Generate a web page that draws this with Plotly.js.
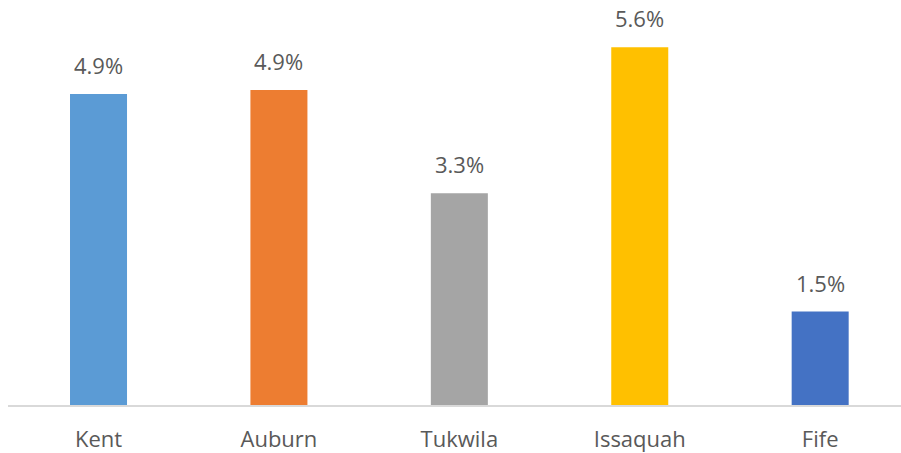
<!DOCTYPE html>
<html>
<head>
<meta charset="utf-8">
<script src="https://cdn.plot.ly/plotly-3.0.1.min.js"></script>
<style>
html,body{margin:0;padding:0;background:#fff;}
#chart{width:901px;height:453px;}
</style>
</head>
<body>
<div id="chart"></div>
<script>
const cities = ["Kent", "Auburn", "Tukwila", "Issaquah", "Fife"];
const rates = [4.86, 4.92, 3.31, 5.59, 1.46];
const rateLabels = ["4.9%", "4.9%", "3.3%", "5.6%", "1.5%"];
const barColors = ["#5b9bd5", "#ed7d31", "#a5a5a5", "#ffc000", "#4472c4"];

const fontFam = '"Open Sans", "Noto Sans", sans-serif';

const trace = {
  type: "bar",
  x: cities,
  y: rates,
  marker: {color: barColors},
  hoverinfo: "none"
};

const annotations = cities.map((c, i) => ({
  x: c, y: rates[i], xref: "x", yref: "y",
  text: rateLabels[i], showarrow: false,
  yanchor: "bottom", yshift: 12,
  font: {family: fontFam, size: 22, color: "#595959"}
}));

const layout = {
  width: 901, height: 453,
  margin: {l: 8, r: 0, t: 21, b: 48},
  paper_bgcolor: "#fff", plot_bgcolor: "#fff",
  showlegend: false,
  bargap: 0.684,
  xaxis: {
    type: "category",
    range: [-0.5017, 4.448],
    showgrid: false, zeroline: false,
    showline: true, linecolor: "#d9d9d9", linewidth: 2,
    ticks: "", ticklabelstandoff: 14,
    tickfont: {family: fontFam, size: 22, color: "#595959"}
  },
  yaxis: {
    range: [0, 6],
    showgrid: false, zeroline: false, showline: false,
    showticklabels: false, ticks: ""
  },
  annotations: annotations
};

Plotly.newPlot("chart", [trace], layout, {displayModeBar: false, staticPlot: true});
</script>
</body>
</html>
